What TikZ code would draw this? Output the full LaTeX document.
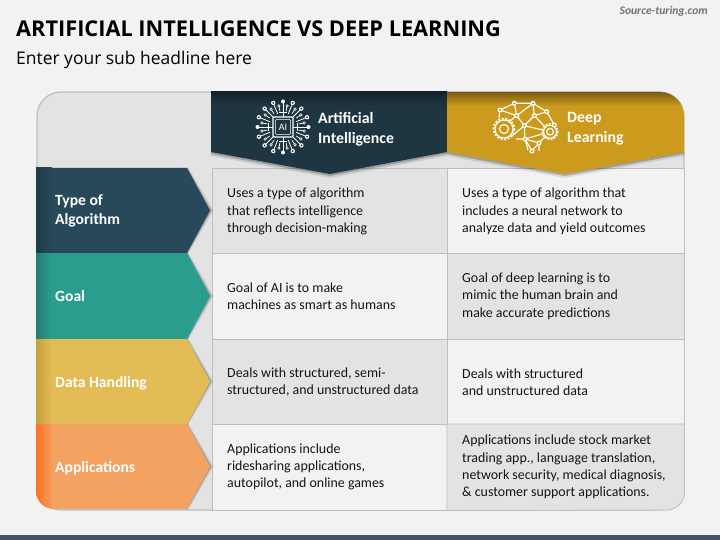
\documentclass[tikz,border=0pt]{standalone}
\usepackage{fontspec}
\setmainfont{Carlito}
\newfontfamily\headfont{Open Sans}
\usetikzlibrary{calc}
\definecolor{bgc}{HTML}{F2F2F2}
\definecolor{panelc}{HTML}{E3E3E3}
\definecolor{linec}{HTML}{BEBEBE}
\definecolor{navyc}{HTML}{28495A}
\definecolor{navyd}{HTML}{1D3B48}
\definecolor{tealc}{HTML}{2A9D8F}
\definecolor{yelc}{HTML}{E3BC55}
\definecolor{orac}{HTML}{F4A261}
\definecolor{hdnavy}{HTML}{1E3641}
\definecolor{hdgold}{HTML}{CC9B1E}
\definecolor{barc}{HTML}{44546A}
\tikzset{
  x=1pt,y=-1pt,
  celltext/.style={anchor=west,align=left,inner sep=0pt,text=black!92,font=\fontsize{13.9}{17.3}\selectfont},
  rowlabel/.style={anchor=west,align=left,inner sep=0pt,text=white,font=\fontsize{15.6}{19.5}\selectfont\bfseries},
  headlabel/.style={anchor=west,align=left,inner sep=0pt,text=white,font=\fontsize{15.8}{20}\selectfont\bfseries},
  cellbox/.style={draw=linec,line width=0.9pt},
  softshadow/.style={fill=black,opacity=0.22},
  softshadowb/.style={fill=black,opacity=0.10},
  icon/.style={draw=white,line width=1.1pt},
}
\newcommand{\bd}[2]{\fill[white] (#1,#2) circle (2.5);\fill[hdgold] (#1,#2) circle (1.2);}
\begin{document}
\begin{tikzpicture}
\useasboundingbox (0,0) rectangle (720,540);
\fill[bgc] (0,0) rectangle (720,540);
\fill[barc] (0,535) rectangle (720,540);
\node[anchor=west,inner sep=0pt,font=\headfont\fontsize{21.75}{24}\selectfont\bfseries,text=black] (title) at (16,29) {ARTIFICIAL INTELLIGENCE VS DEEP LEARNING};
\node[anchor=west,inner sep=0pt,font=\headfont\fontsize{17.45}{20}\selectfont,text=black] (subtitle) at (16,60) {Enter your sub headline here};
\node[anchor=east,inner sep=0pt,font=\fontsize{11.6}{12}\selectfont\bfseries\itshape,text=black!55] (brand) at (708,11) {Source-turing.com};
% panel
\draw[draw=linec,line width=1.2pt,fill=panelc,rounded corners=24] (37,92) rectangle (684,510);
% cells
\draw[cellbox,fill=panelc] (212,168) rectangle (447,253);
\draw[cellbox,fill=bgc] (447,168) rectangle (684.5,253);
\draw[cellbox,fill=bgc] (212,253) rectangle (447,339);
\draw[cellbox,fill=panelc] (447,253) rectangle (684.5,339);
\draw[cellbox,fill=panelc] (212,339) rectangle (447,424);
\draw[cellbox,fill=bgc] (447,339) rectangle (684.5,424);
\draw[cellbox,fill=bgc] (212,424) rectangle (447,510.5);
\draw[cellbox,fill=panelc] (447,424) -- (684.5,424) -- (684.5,492) arc[start angle=0,end angle=90,radius=18] -- (447,510.5) -- cycle;
% header shadows
\fill[softshadowb] (211,150) -- (447,150) -- (447,156) -- (330,178) -- (211,156) -- cycle;
\fill[softshadow] (211,150) -- (447,150) -- (447,154) -- (330,176) -- (211,154) -- cycle;
\fill[softshadowb] (447,150) -- (684,150) -- (684,156) -- (565,178) -- (447,156) -- cycle;
\fill[softshadow] (447,150) -- (684,150) -- (684,154) -- (565,176) -- (447,154) -- cycle;
% headers
\fill[hdnavy] (211,92) -- (447,92) -- (447,152) -- (330,174) -- (211,152) -- cycle;
\shade[top color=black!30!hdnavy!90!black,bottom color=hdnavy] (211,92) rectangle (447,106);
\fill[hdgold] (447,116) -- (684,116) -- (684,152) -- (565,174) -- (447,152) -- cycle;
\begin{scope}
\clip (447,92) -- (660,92) .. controls (673,92) and (684,103) .. (684,116) -- (684,152) -- (447,152) -- cycle;
\fill[hdgold] (447,92) rectangle (684,152);
\shade[top color=hdgold!60!black,bottom color=hdgold] (447,92) rectangle (684,106);
\end{scope}
% row chevron shadows
\foreach \a/\b in {168/253,253/339,339/424,424/509}{
  \fill[softshadowb] (180,\a) -- (188.5,\a) -- (213.5,{(\a+\b)/2}) -- (188.5,\b) -- (180,\b) -- cycle;
  \fill[softshadow] (180,\a) -- (187.5,\a) -- (211.5,{(\a+\b)/2}) -- (187.5,\b) -- (180,\b) -- cycle;
}
% row chevrons
\fill[navyc] (36,168) -- (187,168) -- (210,210.5) -- (187,253) -- (36,253) -- cycle;
\fill[tealc] (36,253) -- (187,253) -- (210,296) -- (187,339) -- (36,339) -- cycle;
\fill[yelc] (36,339) -- (187,339) -- (210,381.5) -- (187,424) -- (36,424) -- cycle;
\fill[orac] (36,424) -- (187,424) -- (210,466.5) -- (187,509) -- (54,509) arc[start angle=90,end angle=180,radius=18] -- cycle;
\shade[left color=navyd,right color=navyc] (36,168) rectangle (52,253);
\shade[left color=tealc!80!black,right color=tealc] (36,253) rectangle (52,339);
\shade[left color=yelc!70!hdgold!90!black,right color=yelc] (36,339) rectangle (52,424);
\begin{scope}
\clip (36,424) rectangle (52,509);
\shade[left color=orange!55!orac!80!red,right color=orac] (36,424) -- (52,424) -- (52,509) -- (54,509) arc[start angle=90,end angle=180,radius=18] -- cycle;
\end{scope}
% row labels
\node[rowlabel] (l1) at (55,211) {Type of\\Algorithm};
\node[rowlabel] (l2) at (55,296) {Goal};
\node[rowlabel] (l3) at (55,383) {Data Handling};
\node[rowlabel] (l4) at (55,468) {Applications};
% header labels
\node[headlabel] (h1) at (318,129) {Artificial\\Intelligence};
\node[headlabel] (h2) at (567,128.5) {Deep\\Learning};
% cell text
\node[celltext] (a1) at (227,211.5) {Uses a type of algorithm\\that reflects intelligence\\through decision-making};
\node[celltext] (b1) at (462,211.5) {Uses a type of algorithm that\\includes a neural network to\\analyze data and yield outcomes};
\node[celltext] (a2) at (227,296.5) {Goal of AI is to make\\machines as smart as humans};
\node[celltext] (b2) at (462,296) {Goal of deep learning is to\\mimic the human brain and\\make accurate predictions};
\node[celltext] (a3) at (227,382) {Deals with structured, semi-\\structured, and unstructured data};
\node[celltext] (b3) at (462,382) {Deals with structured\\and unstructured data};
\node[celltext] (a4) at (227,467) {Applications include\\ridesharing applications,\\autopilot, and online games};
\node[celltext] (b4) at (462,467) {Applications include stock market\\trading app., language translation,\\network security, medical diagnosis,\\\& customer support applications.};
% AI icon
\begin{scope}[shift={(283,127)}]
\draw[icon,rounded corners=1] (-10,-10) rectangle (10,10);
\draw[white,line width=0.5pt,rounded corners=1] (-7.5,-7.5) rectangle (7.5,7.5);
\node[text=white,inner sep=0pt,font=\fontsize{10}{10}\selectfont] (aichip) at (0,0) {AI};
\foreach \ang in {0,90,180,270}{
  \draw[white,line width=0.9pt] (\ang:10) -- (\ang:25);
  \draw[white,line width=0.9pt] (\ang:14.5) ++(\ang+90:4) -- ++(\ang-90:8);
  \fill[white] (\ang:25.5) circle (2);
}
\foreach \ang in {22,45,68,112,135,158,202,225,248,292,315,338}{
  \draw[white,line width=0.8pt] (\ang:14) -- (\ang:25);
  \fill[white] (\ang:26) circle (2.2);
  \fill[hdnavy] (\ang:26) circle (1);
}
\foreach \ang in {11,34,56,79,101,124,146,169,191,214,236,259,281,304,326,349}{
  \draw[white,line width=0.7pt] (\ang:16) -- (\ang:21);
  \fill[white] (\ang:21.5) circle (1.7);
  \fill[hdnavy] (\ang:21.5) circle (0.7);
}
\end{scope}
% Brain icon
\draw[icon] (500,110) -- (514.3,103.3) -- (533,103.3) -- (546.7,111.7) -- (554.3,125)
  (500,110) -- (516.7,115.7) -- (514.3,103.3) (516.7,115.7) -- (524.3,125.7) -- (534.3,115.7) -- (533,103.3)
  (516.7,115.7) -- (533,103.3) (534.3,115.7) -- (546.7,111.7) (534.3,115.7) -- (550,131.7)
  (524.3,125.7) -- (550,131.7) (524.3,125.7) -- (525,139) -- (550,131.7) (525,139) -- (539,143) -- (550,131.7)
  (525,139) -- (532,151) -- (539,143) -- (539,151) (516.7,115.7) -- (510,121) (524.3,125.7) -- (512,136) (500,110)--(499,118)
  (516,139) -- (525,139) -- (528,150);
\draw[white,line width=1.6pt,dash pattern=on 2pt off 1.6pt] (504,129) circle (10.5);
\draw[icon,fill=hdgold] (504,129) circle (9);
\draw[icon] (504,129) circle (4.5);
\draw[white,line width=1.5pt,dash pattern=on 1.8pt off 1.4pt] (550,131.7) circle (7.8);
\draw[icon,fill=hdgold] (550,131.7) circle (6.5);
\draw[icon] (550,131.7) circle (3.4);
\bd{500}{110}\bd{514.3}{103.3}\bd{533}{103.3}\bd{546.7}{111.7}\bd{516.7}{115.7}\bd{534.3}{115.7}\bd{554.3}{125}\bd{524.3}{125.7}\bd{525}{139}\bd{539}{143}\bd{532}{151}
\end{tikzpicture}
\end{document}
